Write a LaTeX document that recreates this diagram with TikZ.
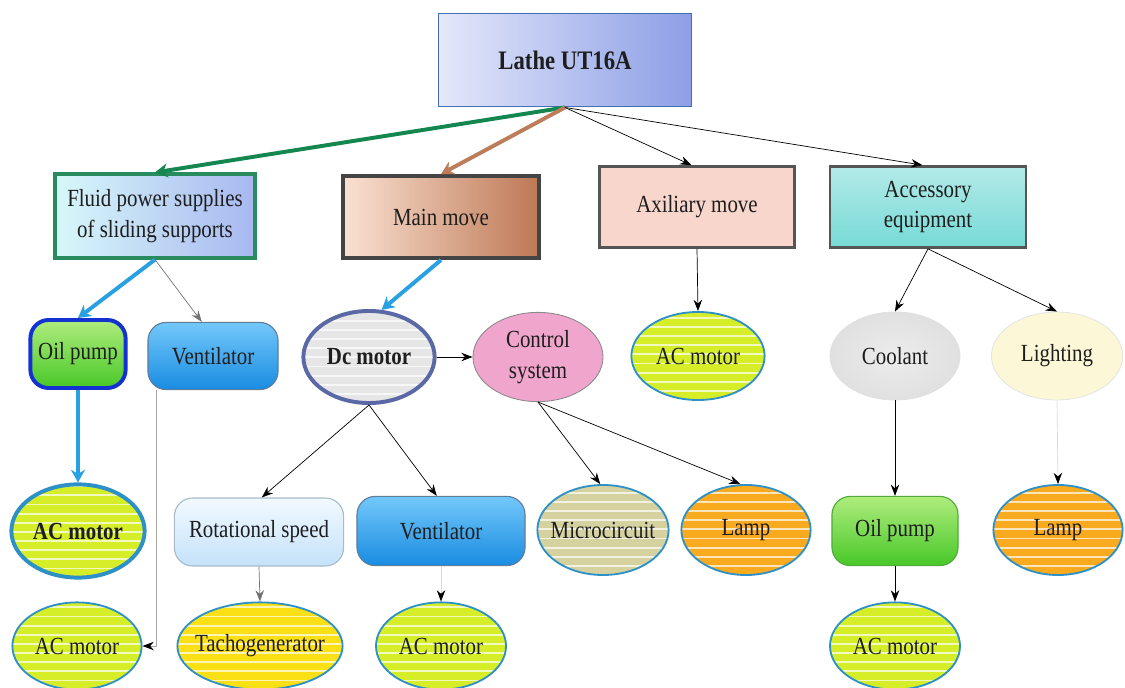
\documentclass[tikz,border=0pt]{standalone}
\usepackage{fontspec}
\setmainfont{Liberation Serif}[FakeStretch=0.85]
\usepackage{xcolor}
\definecolor{latheLight}{RGB}{228, 232, 250}
\definecolor{latheBlue}{RGB}{140, 158, 230}
\definecolor{latheEdge}{RGB}{70, 110, 180}
\definecolor{fluidLight}{RGB}{215, 248, 250}
\definecolor{fluidBlue}{RGB}{168, 184, 240}
\definecolor{fluidGreen}{RGB}{40, 140, 95}
\definecolor{mainLight}{RGB}{250, 225, 210}
\definecolor{mainBrown}{RGB}{190, 120, 85}
\definecolor{edgeDark}{RGB}{85, 85, 85}
\definecolor{auxPink}{RGB}{248, 214, 204}
\definecolor{accTeal}{RGB}{118, 218, 214}
\definecolor{oilLight}{RGB}{175, 236, 125}
\definecolor{oilGreen}{RGB}{72, 200, 40}
\definecolor{oilEdge}{RGB}{20, 50, 210}
\definecolor{oilEdgeR}{RGB}{80, 170, 60}
\definecolor{ventLight}{RGB}{115, 200, 250}
\definecolor{ventBlue}{RGB}{25, 140, 225}
\definecolor{ventEdge}{RGB}{95, 125, 155}
\definecolor{dcGray}{RGB}{230, 230, 230}
\definecolor{dcEdge}{RGB}{90, 105, 165}
\definecolor{ctrlPink}{RGB}{240, 165, 205}
\definecolor{acLime}{RGB}{214, 238, 40}
\definecolor{acEdge}{RGB}{45, 145, 200}
\definecolor{coolGray}{RGB}{224, 224, 224}
\definecolor{lightCream}{RGB}{252, 247, 215}
\definecolor{rotLight}{RGB}{242, 249, 255}
\definecolor{rotBlue}{RGB}{196, 226, 250}
\definecolor{microKhaki}{RGB}{214, 210, 160}
\definecolor{lampOrange}{RGB}{250, 170, 30}
\definecolor{tachoYellow}{RGB}{250, 224, 20}
\definecolor{arrBlue}{RGB}{40, 160, 225}
\definecolor{arrGreen}{RGB}{20, 135, 80}
\definecolor{arrBrown}{RGB}{190, 125, 90}
\definecolor{textDark}{RGB}{30, 30, 30}
\usepackage{tikz}
\usetikzlibrary{
    shapes.geometric,
    arrows.meta,
    positioning,
    calc
}

\begin{document}
\begin{tikzpicture}[
    x=0.025cm, y=-0.025cm,
    every node/.style={font=\fontsize{17.5}{22}\selectfont, text=textDark, align=center},
    topBox/.style={
        rectangle, draw=latheEdge, line width=1.2pt,
        left color=latheLight, right color=latheBlue,
        minimum width=6.33cm, minimum height=2.33cm,
        font=\fontsize{19}{22}\selectfont\bfseries
    },
    groupBox/.style={
        rectangle, draw=edgeDark, line width=1.8pt,
        minimum width=4.9cm, minimum height=2.05cm, inner sep=2pt
    },
    roundBox/.style={
        rectangle, rounded corners=13pt, line width=0.8pt,
        inner sep=2pt, minimum height=1.7cm
    },
    ovalNode/.style={
        ellipse, inner ysep=0pt, inner xsep=-8pt,
        minimum width=3.25cm, minimum height=2.2cm
    },
    acNode/.style={
        ovalNode, draw=acEdge, line width=1.3pt, fill=acLime, stripes
    },
    stripes/.style={
        path picture={
            \foreach \k in {0,...,16} {
                \draw[white, opacity=0.7, line width=1.3pt]
                    ([yshift=\k*6.5pt]path picture bounding box.south west) --
                    ([yshift=\k*6.5pt]path picture bounding box.south east);
            }
        }
    },
    thinArrow/.style={
        -{Stealth[length=8pt, width=6pt]}, line width=0.5pt, draw=black
    },
    paleArrow/.style={
        -{Stealth[length=8pt, width=6pt, color=black]}, line width=0.5pt, draw=black!15
    },
    thickArrow/.style={
        -{Stealth[length=9pt, width=10pt]}, line width=2.8pt
    }
]

    \useasboundingbox (0,0) rectangle (1125,688);

    % Top level
    \node[topBox] (cLathe) at (565, 60) {Lathe UT16A};

    % Second level: groups of the lathe
    \node[groupBox, draw=fluidGreen, line width=2.8pt, left color=fluidLight, right color=fluidBlue,
          minimum width=4.98cm, minimum height=2.08cm] (cFluid) at (155, 216)
        {Fluid power supplies\\of sliding supports};
    \node[groupBox, line width=2.8pt, draw=edgeDark!80!black, left color=mainLight, right color=mainBrown] (cMain) at (441, 217) {Main move};
    \node[groupBox, fill=auxPink, minimum width=4.88cm, minimum height=2.03cm] (cAux) at (697, 207) {Axiliary move};
    \node[groupBox, top color=accTeal!55, bottom color=accTeal, minimum width=4.9cm, minimum height=2.03cm] (cAcc) at (928, 207) {Accessory\\equipment};

    % Third level
    \node[roundBox, draw=oilEdge, line width=2.8pt, top color=oilLight, bottom color=oilGreen,
          minimum width=2.38cm] (cOilL) at (78, 354) {Oil pump};
    \node[roundBox, draw=ventEdge, top color=ventLight, bottom color=ventBlue,
          minimum width=3.25cm, minimum height=1.68cm] (cVentL) at (213, 356) {Ventilator};
    \node[ovalNode, draw=dcEdge, line width=2.8pt, fill=dcGray, stripes,
          minimum width=3.28cm, minimum height=2.3cm, font=\fontsize{17.5}{22}\selectfont\bfseries] (cDc) at (369, 357) {Dc motor};
    \node[ovalNode, draw=edgeDark!70, line width=0.6pt, fill=ctrlPink,
          minimum height=2.23cm] (cCtrl) at (538, 357) {Control\\system};
    \node[acNode, minimum width=3.33cm] (cAcAux) at (698, 356) {AC motor};
    \node[ovalNode, draw=black!12, line width=0.6pt, inner color=coolGray!60, outer color=coolGray] (cCool) at (895, 356) {Coolant};
    \node[ovalNode, draw=black!10, line width=0.6pt, fill=lightCream, minimum width=3.28cm] (cLight) at (1057, 356) {Lighting};

    % Fourth level
    \node[acNode, line width=2.8pt, minimum width=3.33cm, minimum height=2.33cm,
          font=\fontsize{17.5}{22}\selectfont\bfseries] (cAcOilL) at (78, 531) {AC motor};
    \node[roundBox, draw=rotBlue!60!gray, top color=rotLight, bottom color=rotBlue,
          minimum width=4.23cm] (cRot) at (259, 532) {Rotational speed};
    \node[roundBox, draw=ventEdge, top color=ventLight, bottom color=ventBlue,
          minimum width=4.2cm, minimum height=1.73cm] (cVentM) at (441, 531) {Ventilator};
    \node[ovalNode, draw=acEdge, line width=1.3pt, fill=microKhaki, stripes,
          minimum width=3.28cm, minimum height=2.25cm] (cMicro) at (603, 530) {Microcircuit};
    \node[ovalNode, draw=acEdge, line width=1.3pt, fill=lampOrange, stripes,
          minimum width=3.23cm, minimum height=2.25cm] (cLampC) at (746, 530) {Lamp};
    \node[roundBox, draw=oilEdgeR, top color=oilLight, bottom color=oilGreen,
          minimum width=3.15cm, minimum height=1.73cm] (cOilR) at (895, 531) {Oil pump};
    \node[ovalNode, draw=acEdge, line width=1.3pt, fill=lampOrange, stripes,
          minimum width=3.23cm, minimum height=2.25cm] (cLampR) at (1058, 530) {Lamp};

    % Fifth level
    \node[acNode, minimum width=3.23cm, minimum height=2.18cm] (cAcVentL) at (77, 646) {AC motor};
    \node[ovalNode, draw=acEdge, line width=1.3pt, fill=tachoYellow, stripes,
          minimum width=4.13cm, minimum height=2.18cm] (cTacho) at (260, 646) {Tachogenerator};
    \node[acNode, minimum height=2.18cm] (cAcVentM) at (441, 646) {AC motor};
    \node[acNode, minimum height=2.18cm] (cAcOilR) at (895, 646) {AC motor};

    % Connecting Arrows
    \draw[thickArrow, draw=arrGreen] (cLathe.south) -- (cFluid.north);
    \draw[thickArrow, draw=arrBrown] (cLathe.south) -- (cMain.north);
    \draw[thinArrow] (cLathe.south) -- ([xshift=-4pt]cAux.north);
    \draw[thinArrow] (cLathe.south) -- ([xshift=-4pt]cAcc.north);

    \draw[thickArrow, draw=arrBlue] (cFluid.south) -- (cOilL.north);
    \draw[thinArrow, draw=black!55] (cFluid.south) -- ([xshift=-8pt]cVentL.north);
    \draw[thickArrow, draw=arrBlue] (cMain.south) -- (cDc.75);
    \draw[thinArrow] (cDc.east) -- (cCtrl.west);
    \draw[thinArrow] (cAux.south) -- (cAcAux.north);
    \draw[thinArrow] (cAcc.south) -- (cCool.north);
    \draw[thinArrow] (cAcc.south) -- (cLight.north);

    \draw[thickArrow, draw=arrBlue] (cOilL.south) -- (cAcOilL.north);
    \draw[paleArrow, draw=black!35] ([xshift=6pt]cVentL.south west) |- (cAcVentL.east);
    \draw[thinArrow] (cDc.south) -- ([xshift=2pt]cRot.north);
    \draw[thinArrow] (cDc.south) -- ([xshift=-3pt]cVentM.north);
    \draw[thinArrow] (cCtrl.south) -- ([xshift=-2pt]cMicro.north);
    \draw[thinArrow] (cCtrl.south) -- ([xshift=-4pt]cLampC.north);
    \draw[thinArrow] (cCool.south) -- (cOilR.north);
    \draw[paleArrow] (cLight.south) -- (cLampR.north);

    \draw[thinArrow, draw=black!55] (cRot.south) -- (cTacho.north);
    \draw[paleArrow] (cVentM.south) -- (cAcVentM.north);
    \draw[thinArrow] (cOilR.south) -- (cAcOilR.north);

\end{tikzpicture}
\end{document}
